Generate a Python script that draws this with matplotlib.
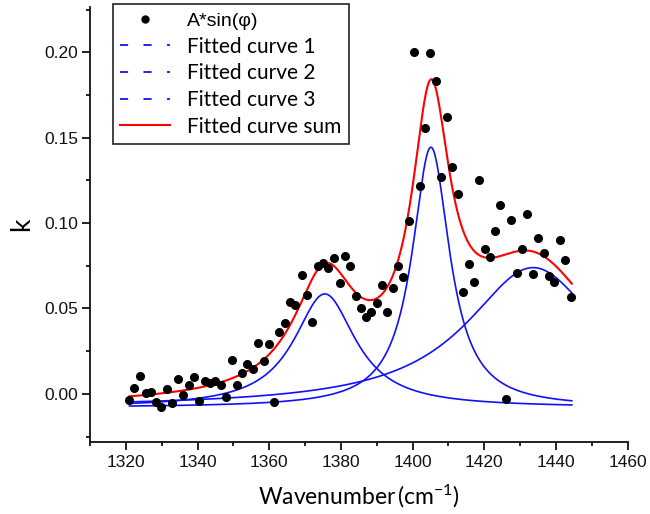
import numpy as np
import matplotlib
matplotlib.use("Agg")
import matplotlib.pyplot as plt
from matplotlib.lines import Line2D
from matplotlib.ticker import MultipleLocator

# ---- data ----
wavenumber = [1321.0, 1322.4, 1323.9, 1325.6, 1327.0, 1328.4, 1329.8, 1331.4, 1332.9, 1334.5,
              1335.9, 1337.5, 1339.0, 1340.4, 1342.0, 1343.4, 1345.0, 1346.5, 1347.9, 1349.5,
              1351.0, 1352.5, 1353.9, 1355.5, 1356.9, 1358.4, 1359.9, 1361.4, 1362.8, 1364.4,
              1365.8, 1367.2, 1369.1, 1370.5, 1371.9, 1373.5, 1374.9, 1376.4, 1378.0, 1379.6,
              1381.1, 1382.5, 1384.1, 1385.5, 1386.9, 1388.4, 1390.0, 1391.5, 1392.9, 1394.5,
              1396.0, 1397.4, 1399.0, 1400.4, 1402.0, 1403.5, 1404.9, 1406.5, 1407.9, 1409.5,
              1411.0, 1412.6, 1414.0, 1415.6, 1417.1, 1418.5, 1420.1, 1421.5, 1423.1, 1424.5,
              1426.0, 1427.5, 1429.0, 1430.5, 1432.0, 1433.6, 1435.0, 1436.6, 1438.1, 1439.5,
              1441.1, 1442.5, 1444.1]
k_values = [-0.0036, 0.0033, 0.0105, 0.0004, 0.0009, -0.0046, -0.0075, 0.0027, -0.0052, 0.0085,
            -0.0006, 0.0052, 0.0101, -0.0040, 0.0076, 0.0062, 0.0076, 0.0052, -0.0016, 0.0198,
            0.0052, 0.0121, 0.0173, 0.0148, 0.0296, 0.0193, 0.0292, -0.0046, 0.0361, 0.0413,
            0.0536, 0.0520, 0.0696, 0.0579, 0.0423, 0.0749, 0.0765, 0.0735, 0.0797, 0.0648,
            0.0809, 0.0749, 0.0575, 0.0505, 0.0448, 0.0478, 0.0530, 0.0638, 0.0481, 0.0622,
            0.0749, 0.0683, 0.1012, 0.2000, 0.1219, 0.1559, 0.1998, 0.1834, 0.1272, 0.1619,
            0.1330, 0.1169, 0.0598, 0.0759, 0.0653, 0.1252, 0.0848, 0.0803, 0.0956, 0.1106,
            -0.0029, 0.1018, 0.0710, 0.0847, 0.1053, 0.0700, 0.0911, 0.0823, 0.0690, 0.0653,
            0.0901, 0.0784, 0.0569]

# Lorentzian fit parameters
fit_centers = [1375.5, 1405.1, 1433.6]
fit_hwhm = [10.5, 6.4, 23.0]
fit_heights = [0.0665, 0.1524, 0.0819]
fit_offset = -0.008
fit_range = [1321.0, 1444.4]

legend_labels = ["A*sin(\u03c6)", "Fitted curve 1", "Fitted curve 2", "Fitted curve 3", "Fitted curve sum"]
x_ticks = [1320, 1340, 1360, 1380, 1400, 1420, 1440, 1460]
y_ticks = [0.00, 0.05, 0.10, 0.15, 0.20]

BLUE = "#1010ff"
RED = "#ff0000"

plt.rcParams["mathtext.fontset"] = "custom"
plt.rcParams["mathtext.rm"] = "Lato"
plt.rcParams["mathtext.it"] = "Lato:italic"

fig = plt.figure(figsize=(6.5, 5.14), dpi=100)
ax = fig.add_axes([0.1385, 0.1407, 0.8272, 0.8451])

xf = np.linspace(fit_range[0], fit_range[1], 600)
comps = []
for c, g, h in zip(fit_centers, fit_hwhm, fit_heights):
    comps.append(h * g**2 / ((xf - c)**2 + g**2))
for comp in comps:
    ax.plot(xf, fit_offset + comp, color=BLUE, lw=1.2, zorder=2)
ax.plot(xf, fit_offset + np.sum(comps, axis=0), color=RED, lw=1.5, zorder=3)
ax.plot(wavenumber, k_values, "o", color="black", markersize=5.5, zorder=4)

ax.set_xlim(1310, 1460)
ax.set_ylim(-0.028, 0.2263)
ax.set_xticks(x_ticks)
ax.set_yticks(y_ticks)
ax.set_yticklabels([f"{v:.2f}" for v in y_ticks])
ax.xaxis.set_minor_locator(MultipleLocator(10))
ax.yaxis.set_minor_locator(MultipleLocator(0.025))

for s in ["top", "right"]:
    ax.spines[s].set_visible(False)
for s in ["left", "bottom"]:
    ax.spines[s].set_linewidth(1.3)
    ax.spines[s].set_color("#111111")

ax.tick_params(which="major", direction="out", length=5.5, width=1.3, labelsize=12.5,
               colors="#111111", pad=3)
ax.tick_params(which="minor", direction="out", length=3.2, width=1.3, colors="#111111")
ax.tick_params(axis="x", which="major", pad=4)
for lab in ax.get_xticklabels() + ax.get_yticklabels():
    lab.set_family("Liberation Sans")

ax.set_xlabel("Wavenumber\u2009(cm$^{-1}$)", fontsize=16.5, family=["Lato", "DejaVu Sans"], labelpad=9)
ax.set_ylabel("k", fontsize=19, family="Lato", labelpad=7)

dash = (0, (4.5, 8.5))
handles = [
    Line2D([], [], marker="o", ls="none", color="black", markersize=5),
    Line2D([], [], color=BLUE, lw=1.3, ls=dash),
    Line2D([], [], color=BLUE, lw=1.3, ls=dash),
    Line2D([], [], color=BLUE, lw=1.3, ls=dash),
    Line2D([], [], color=RED, lw=1.5),
]
leg = ax.legend(handles, legend_labels, loc="upper left", bbox_to_anchor=(113 / 650, 1 - 4 / 514),
                bbox_transform=fig.transFigure, prop={"family": "Lato", "size": 15},
                frameon=True, fancybox=False, edgecolor="#222222", framealpha=1,
                borderpad=0.35, labelspacing=0.32, handlelength=2.4, handletextpad=0.8,
                borderaxespad=0, numpoints=1)
leg.get_frame().set_linewidth(1.2)
leg.get_texts()[0].set_family("Liberation Sans")
leg.get_texts()[0].set_fontsize(14)

fig.savefig("out.png", dpi=100)
